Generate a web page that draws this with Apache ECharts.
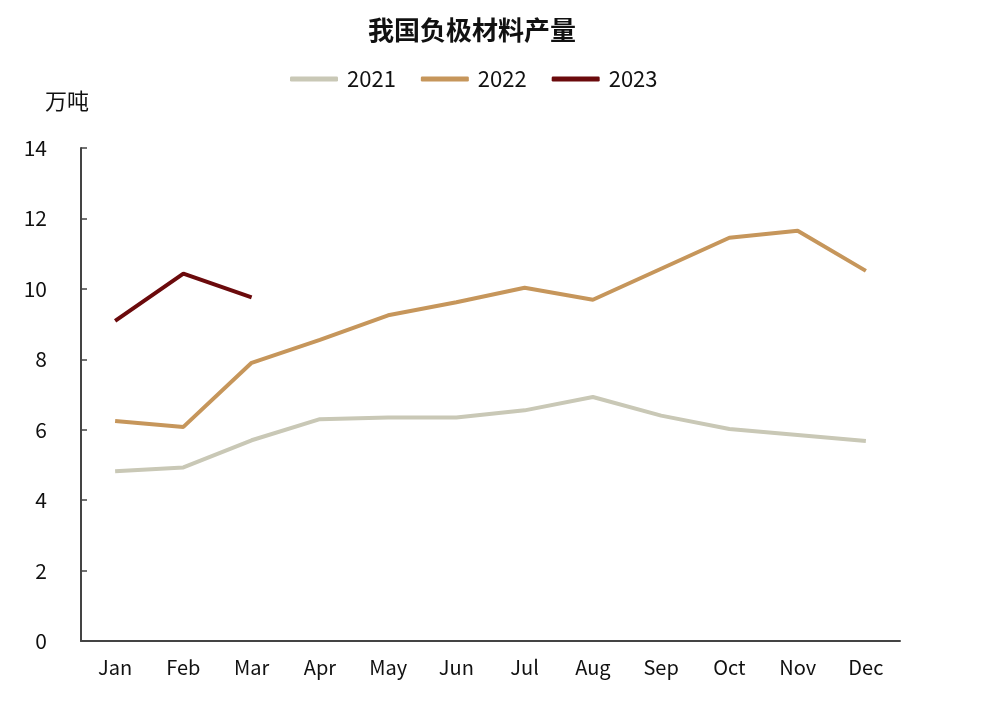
<!DOCTYPE html>
<html><head><meta charset="utf-8">
<script src="https://cdn.jsdelivr.net/npm/echarts@6/dist/echarts.min.js"></script>
<style>html,body{margin:0;padding:0;background:#fff}#c{width:987px;height:704px}</style>
</head><body><div id="c"></div>
<script>
const categories = ['Jan','Feb','Mar','Apr','May','Jun','Jul','Aug','Sep','Oct','Nov','Dec'];
const s2021 = [4.82, 4.93, 5.70, 6.30, 6.35, 6.35, 6.55, 6.93, 6.40, 6.02, 5.85, 5.68];
const s2022 = [6.25, 6.08, 7.90, 8.55, 9.25, 9.62, 10.03, 9.69, 10.57, 11.45, 11.65, 10.51];
const s2023 = [9.09, 10.43, 9.76];
const seriesNames = ['2021','2022','2023'];
const colors = ['#c9c8b6','#c6965b','#6b0a0c'];
const font = '"Noto Sans CJK SC", sans-serif';
const chart = echarts.init(document.getElementById('c'));
const mk = (name, data, color) => ({
  name, type: 'line', data, symbol: 'none', showSymbol: false,
  lineStyle: {width: 4, color}, itemStyle: {color}
});
chart.setOption({
  animation: false,
  title: {text: '我国负极材料产量', left: 363, top: 12,
    textStyle: {fontFamily: font, fontSize: 26, fontWeight: 'bold', color: '#111'}},
  legend: {top: 63, left: 285, itemWidth: 48, itemHeight: 5, itemGap: 25,
    icon: 'roundRect',
    textStyle: {fontFamily: font, fontSize: 22, color: '#111', padding: [0, 0, 0, 4]},
    data: seriesNames},
  grid: {left: 81, right: 87, top: 148, bottom: 63, containLabel: false},
  xAxis: {type: 'category', data: categories, boundaryGap: true,
    axisLine: {lineStyle: {color: '#444', width: 2}},
    axisTick: {inside: true, length: 6, lineStyle: {color: '#444', width: 1.5}},
    axisLabel: {fontFamily: font, fontSize: 20, color: '#111', margin: 16},
    splitLine: {show: false}},
  yAxis: {type: 'value', min: 0, max: 14, interval: 2,
    name: '万吨', nameLocation: 'end', nameGap: 36,
    nameTextStyle: {fontFamily: font, fontSize: 22, color: '#111', align: 'right', padding: [0, -8, 0, 0]},
    axisLine: {show: true, lineStyle: {color: '#444', width: 2}},
    axisTick: {show: true, inside: true, length: 6, lineStyle: {color: '#444', width: 1.5}},
    axisLabel: {fontFamily: font, fontSize: 21, color: '#111', margin: 34},
    splitLine: {show: false}},
  series: [mk('2021', s2021, colors[0]), mk('2022', s2022, colors[1]), mk('2023', s2023, colors[2])]
});
</script></body></html>
